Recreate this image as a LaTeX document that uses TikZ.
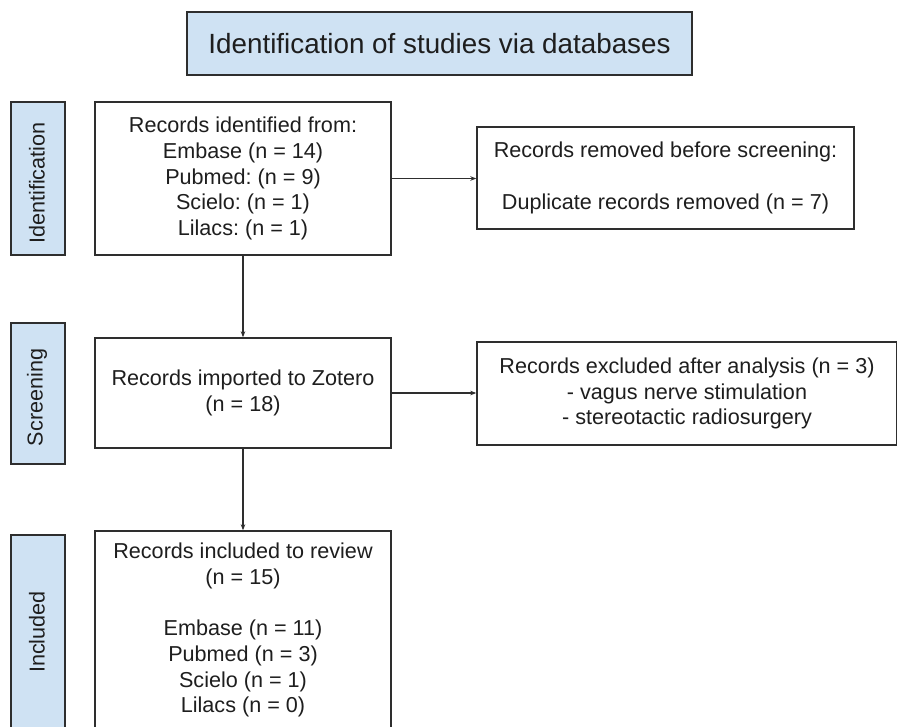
\documentclass[tikz,border=0pt]{standalone}
\usepackage{fontspec}
\setmainfont{Liberation Sans}
\usetikzlibrary{arrows.meta}
\definecolor{boxblue}{HTML}{CFE2F3}
\definecolor{edge}{HTML}{2E2E2E}
\definecolor{ink}{HTML}{1E1E1E}
\tikzset{
  body/.style={font=\fontsize{21.6}{25.8}\selectfont\frenchspacing, text=ink, align=center, inner sep=0pt},
  whitebox/.style={body, draw=edge, line width=1.4pt, fill=white},
  sidebox/.style={draw=edge, line width=1.4pt, fill=boxblue, minimum width=54pt, inner sep=0pt},
  sidelabel/.style={body, rotate=90},
  arr/.style={draw=edge, line width=1.1pt, -{Stealth[length=6pt,width=4.5pt]}}
}
\begin{document}
\begin{tikzpicture}[x=1pt,y=1pt]
\useasboundingbox (0,0) rectangle (897,-726);
\clip (0,0) rectangle (897,-726);
\fill[white] (0,0) rectangle (897,-726);

\node[draw=edge, line width=1.4pt, fill=boxblue, minimum width=505pt, minimum height=63pt, inner sep=0pt,
      font=\fontsize{27.8}{33}\selectfont, text=ink] (title) at (439.5,-43.5) {Identification of studies via databases};

\node[sidebox, minimum height=153pt] (sideI) at (38,-178.5) {};
\node[sidebox, minimum height=141pt] (sideS) at (38,-393.5) {};
\node[sidebox, minimum height=194pt] (sideN) at (38,-632) {};
\node[sidelabel] (labI) at (37,-183) {Identification};
\node[sidelabel] (labS) at (37,-397.5) {Screening};
\node[sidelabel] (labN) at (37,-632) {Included};

\node[whitebox, minimum width=296pt, minimum height=153pt] (ident) at (243,-178.5)
  {Records identified from:\\Embase (n = 14)\\Pubmed: (n = 9)\\Scielo: (n = 1)\\Lilacs: (n = 1)};
\node[whitebox, minimum width=377pt, minimum height=102pt] (removed) at (665.5,-178)
  {Records removed before screening:\\[25.8pt]Duplicate records removed (n = 7)};
\node[whitebox, minimum width=296pt, minimum height=110pt] (zotero) at (243,-393)
  {Records imported to Zotero\\(n = 18)};
\node[whitebox, minimum width=420pt, minimum height=103pt] (excluded) at (687,-393.5)
  {Records excluded after analysis (n = 3)\\- vagus nerve stimulation\\- stereotactic radiosurgery};
\node[whitebox, minimum width=296pt, minimum height=198pt] (included) at (243,-630)
  {Records included to review\\(n = 15)\\[25.8pt]Embase (n = 11)\\Pubmed (n = 3)\\Scielo (n = 1)\\Lilacs (n = 0)};

\draw[arr] (ident.south) -- (zotero.north);
\draw[arr] (zotero.south) -- (included.north);
\draw[arr] (ident.east) -- (ident.east -| removed.west);
\draw[arr] (zotero.east) -- (zotero.east -| excluded.west);
\end{tikzpicture}
\end{document}
